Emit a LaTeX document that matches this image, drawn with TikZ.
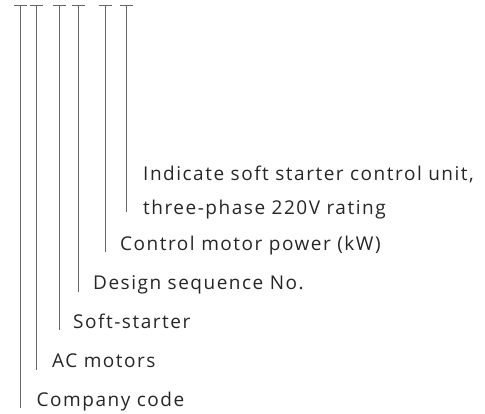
\documentclass[tikz,border=0pt]{standalone}
\usepackage{fontspec}
\setmainfont{Open Sans}[LetterSpace=8]
\begin{document}
\begin{tikzpicture}[x=1pt,y=-1pt,
  lbl/.style={anchor=base west,inner sep=0pt,text=black!85,font=\fontsize{19}{24}\selectfont},
  stem/.style={draw=black!60,line width=0.9pt},
  bar/.style={draw=black!60,line width=0.9pt}]
\useasboundingbox (0,0) rectangle (485,414);
% tees
\foreach \n/\x/\y in {1/20.7/408, 2/36.7/370, 3/59.3/330, 4/78.3/292, 5/105/252, 6/126.7/212}{
  \coordinate (t\n) at (\x,5);
  \coordinate (b\n) at (\x,\y);
  \coordinate (l\n) at (\x-6.5,5);
  \coordinate (r\n) at (\x+6.5,5);
  \draw[bar] (l\n) -- (r\n);
  \draw[stem] (t\n) -- (b\n);
}
\node[lbl] (c1) at (36.5,406) {Company code};
\node[lbl] (c2) at (52,367) {AC motors};
\node[lbl] (c3) at (73,328) {Soft-starter};
\node[lbl] (c4) at (93,290) {Design sequence No.};
\node[lbl] (c5) at (120,251) {Control motor power (kW)};
\node[lbl] (c6) at (143,181) {Indicate soft starter control unit,};
\node[lbl] (c7) at (143,215) {three-phase 220V rating};
\end{tikzpicture}
\end{document}
